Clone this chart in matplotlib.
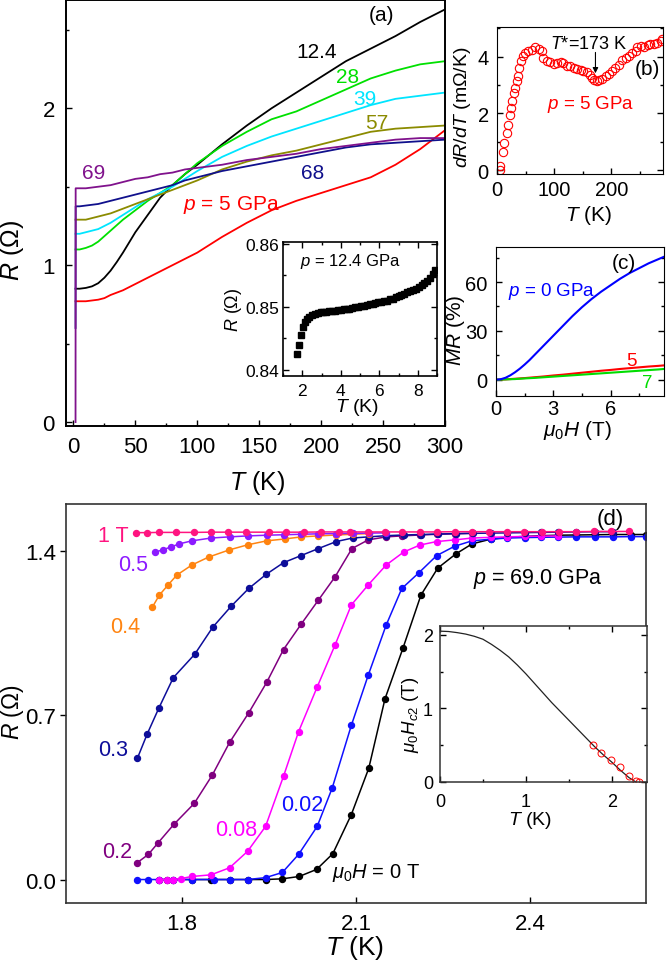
# R(T) at high pressure: four panels + two insets
import matplotlib
matplotlib.use('Agg')
import matplotlib.pyplot as plt
from matplotlib.ticker import MultipleLocator, FormatStrFormatter

plt.rcParams['font.family'] = ['Liberation Sans', 'DejaVu Sans']
plt.rcParams['mathtext.fontset'] = 'custom'
plt.rcParams['mathtext.rm'] = 'Liberation Sans'
plt.rcParams['mathtext.it'] = 'Liberation Sans:italic'
plt.rcParams['xtick.direction'] = 'in'
plt.rcParams['ytick.direction'] = 'in'

# ---- panel (a): R(T) at several pressures (GPa)
t_a = [1.7, 1.8, 5, 10, 15, 20, 25, 30, 35, 40, 45, 50, 60, 70, 80, 90, 100,
       120, 140, 160, 180, 200, 220, 240, 260, 280, 300]
r_5 = [0.77, 0.77, 0.77, 0.77, 0.775, 0.78, 0.79, 0.81, 0.825, 0.84, 0.86,
       0.88, 0.92, 0.96, 1.00, 1.04, 1.08, 1.18, 1.27, 1.35, 1.41, 1.46, 1.51,
       1.56, 1.64, 1.74, 1.86]
r_12 = [0.85, 0.85, 0.85, 0.855, 0.865, 0.885, 0.92, 0.965, 1.02, 1.08, 1.145,
        1.21, 1.32, 1.43, 1.51, 1.58, 1.64, 1.77, 1.89, 2.00, 2.10, 2.20, 2.30,
        2.38, 2.46, 2.55, 2.63]
r_28 = [1.10, 1.10, 1.10, 1.11, 1.125, 1.15, 1.185, 1.22, 1.255, 1.29, 1.32,
        1.35, 1.41, 1.46, 1.51, 1.58, 1.65, 1.76, 1.85, 1.93, 1.98, 2.05, 2.12,
        2.19, 2.24, 2.28, 2.30]
r_39 = [1.20, 1.20, 1.20, 1.21, 1.22, 1.23, 1.25, 1.27, 1.295, 1.32, 1.345,
        1.37, 1.42, 1.46, 1.50, 1.55, 1.60, 1.69, 1.76, 1.82, 1.87, 1.92, 1.97,
        2.02, 2.06, 2.08, 2.10]
r_57 = [1.29, 1.29, 1.29, 1.29, 1.30, 1.31, 1.32, 1.33, 1.345, 1.36, 1.375,
        1.39, 1.42, 1.45, 1.48, 1.51, 1.54, 1.61, 1.66, 1.70, 1.73, 1.77, 1.81,
        1.85, 1.87, 1.88, 1.89]
r_68 = [0.60, 1.375, 1.375, 1.38, 1.385, 1.39, 1.40, 1.41, 1.42, 1.43, 1.44,
        1.45, 1.47, 1.49, 1.51, 1.54, 1.56, 1.60, 1.63, 1.66, 1.69, 1.72, 1.75,
        1.77, 1.78, 1.79, 1.80]
r_69 = [0.0, 1.49, 1.49, 1.49, 1.495, 1.50, 1.505, 1.51, 1.52, 1.53, 1.54,
        1.55, 1.56, 1.58, 1.59, 1.61, 1.62, 1.64, 1.67, 1.69, 1.71, 1.74, 1.76,
        1.78, 1.80, 1.81, 1.81]

# inset of (a): 12.4 GPa low T
t_ain = [1.75, 1.85, 1.95, 2.05, 2.15, 2.25, 2.35, 2.5, 2.65, 2.8, 2.95, 3.1,
         3.25, 3.4, 3.55, 3.7, 3.85, 4.0, 4.15, 4.3, 4.45, 4.6, 4.75, 4.9,
         5.05, 5.2, 5.35, 5.5, 5.65, 5.8, 5.95, 6.1, 6.25, 6.4, 6.55, 6.7,
         6.85, 7.0, 7.15, 7.3, 7.45, 7.6, 7.75, 7.9, 8.05, 8.2, 8.35, 8.5,
         8.65, 8.8, 8.9]
r_ain = [0.8425, 0.8440, 0.8455, 0.8468, 0.8476, 0.8481, 0.8484, 0.8487,
         0.8489, 0.8490, 0.8491, 0.8492, 0.8492, 0.8493, 0.8494, 0.8494,
         0.8495, 0.8495, 0.8496, 0.8497, 0.8497, 0.8498, 0.8499, 0.8500,
         0.8501, 0.8502, 0.8503, 0.8504, 0.8505, 0.8506, 0.8507, 0.8508,
         0.8509, 0.8510, 0.8512, 0.8513, 0.8515, 0.8517, 0.8519, 0.8521,
         0.8523, 0.8525, 0.8527, 0.8529, 0.8532, 0.8535, 0.8538, 0.8541,
         0.8545, 0.8552, 0.8558]

# ---- panel (b): dR/dT at 5 GPa
t_b = [5, 6, 10, 12, 17, 20, 22, 24, 27, 30, 32, 35, 36, 39, 42, 45, 49, 55,
       61, 67, 73, 78, 81, 87, 93, 99, 105, 111, 116, 122, 128, 134, 140, 146,
       151, 157, 163, 166, 170, 174, 178, 184, 190, 195, 201, 207, 213, 219,
       225, 230, 236, 242, 245, 251, 257, 263, 268, 274, 280, 286, 289]
dr_b = [0.01, 0.15, 0.62, 0.97, 1.32, 1.58, 1.96, 2.20, 2.43, 2.72, 2.90, 3.13,
        3.31, 3.60, 3.84, 4.01, 4.13, 4.19, 4.25, 4.34, 4.27, 4.19, 3.95, 3.84,
        3.80, 3.75, 3.78, 3.81, 3.78, 3.68, 3.66, 3.60, 3.57, 3.54, 3.51, 3.45,
        3.37, 3.25, 3.19, 3.16, 3.17, 3.22, 3.31, 3.40, 3.49, 3.60, 3.72, 3.87,
        3.95, 4.04, 4.13, 4.19, 4.36, 4.39, 4.36, 4.42, 4.46, 4.46, 4.50, 4.57,
        4.62]

# ---- panel (c): MR vs field
h_c = [0, 0.25, 0.5, 0.75, 1, 1.25, 1.5, 1.75, 2, 2.5, 3, 3.5, 4, 4.5, 5, 5.5,
       6, 6.5, 7, 7.5, 8, 8.5, 8.8]
mr_0 = [0, 0.3, 1.2, 2.7, 4.6, 6.8, 9.3, 12.0, 15, 21, 27, 33, 39, 44.5, 49.5,
        54, 58, 62, 65.5, 68.5, 71.5, 74, 75.5]
mr_5 = [0, 0.1, 0.2, 0.4, 0.6, 0.8, 1.0, 1.25, 1.5, 2.0, 2.6, 3.1, 3.7, 4.3,
        4.9, 5.5, 6.0, 6.6, 7.1, 7.6, 8.1, 8.5, 8.8]
mr_7 = [0, 0.1, 0.2, 0.3, 0.4, 0.6, 0.8, 0.95, 1.1, 1.5, 1.9, 2.3, 2.7, 3.1,
        3.5, 3.9, 4.3, 4.7, 5.1, 5.5, 5.9, 6.3, 6.6]

# ---- panel (d): R(T) at 69.0 GPa under field (T)
t_1 = [1.72, 1.74, 1.76, 1.79, 1.82, 1.85, 1.88, 1.91, 1.95, 1.98, 2.01, 2.04,
       2.07, 2.09, 2.12, 2.15, 2.18, 2.21, 2.24, 2.27, 2.30, 2.33, 2.36, 2.39,
       2.42, 2.45, 2.48, 2.51, 2.54, 2.57]
r_1 = [1.478, 1.478, 1.479, 1.479, 1.479, 1.480, 1.480, 1.480, 1.480, 1.480,
       1.480, 1.481, 1.481, 1.481, 1.481, 1.481, 1.481, 1.481, 1.481, 1.482,
       1.482, 1.482, 1.482, 1.482, 1.482, 1.482, 1.482, 1.483, 1.483, 1.483]
t_05 = [1.754, 1.767, 1.781, 1.795, 1.817, 1.850, 1.882, 1.913, 1.946, 1.975,
        2.006, 2.035, 2.066, 2.094, 2.122, 2.152]
r_05 = [1.395, 1.405, 1.417, 1.430, 1.443, 1.455, 1.460, 1.464, 1.467, 1.469,
        1.471, 1.473, 1.474, 1.475, 1.476, 1.477]
t_04 = [1.749, 1.761, 1.776, 1.791, 1.817, 1.846, 1.881, 1.913, 1.946, 1.977,
        2.006, 2.035, 2.066, 2.094, 2.122]
r_04 = [1.161, 1.212, 1.255, 1.297, 1.340, 1.374, 1.404, 1.426, 1.443, 1.451,
        1.460, 1.464, 1.468, 1.471, 1.474]
t_03 = [1.723, 1.740, 1.760, 1.785, 1.822, 1.853, 1.885, 1.915, 1.945, 1.975,
        2.005, 2.035, 2.066, 2.094, 2.122, 2.152, 2.182, 2.212, 2.241, 2.272,
        2.301, 2.332, 2.361, 2.392, 2.419, 2.448, 2.479, 2.512, 2.543]
r_03 = [0.516, 0.62, 0.73, 0.86, 0.96, 1.075, 1.165, 1.24, 1.30, 1.35, 1.38,
        1.41, 1.44, 1.455, 1.46, 1.465, 1.468, 1.470, 1.472, 1.474, 1.475,
        1.476, 1.477, 1.478, 1.479, 1.480, 1.481, 1.482, 1.482]
t_02 = [1.723, 1.742, 1.759, 1.786, 1.821, 1.852, 1.882, 1.915, 1.946, 1.975,
        2.006, 2.035, 2.064, 2.093, 2.121, 2.152, 2.179, 2.21, 2.24, 2.27, 2.30]
r_02 = [0.072, 0.107, 0.157, 0.235, 0.324, 0.444, 0.584, 0.71, 0.84, 0.98,
        1.09, 1.19, 1.29, 1.41, 1.447, 1.46, 1.464, 1.468, 1.471, 1.473, 1.475]
t_008 = [1.761, 1.774, 1.785, 1.798, 1.817, 1.850, 1.882, 1.913, 1.944, 1.975,
         2.001, 2.033, 2.064, 2.092, 2.121, 2.152, 2.182, 2.21, 2.239, 2.27,
         2.30, 2.332, 2.361, 2.392, 2.419, 2.448]
r_008 = [0.0, 0.0, 0.0, 0.004, 0.013, 0.02, 0.05, 0.12, 0.226, 0.44, 0.63, 0.82,
         1.0, 1.17, 1.255, 1.34, 1.395, 1.425, 1.44, 1.447, 1.455, 1.458, 1.46,
         1.462, 1.463, 1.464]
t_002 = [1.723, 1.742, 1.761, 1.785, 1.817, 1.855, 1.882, 1.913, 1.944, 1.973,
         2.001, 2.033, 2.059, 2.092, 2.121, 2.152, 2.179, 2.208, 2.239, 2.27,
         2.30, 2.332, 2.361, 2.392, 2.419, 2.448, 2.479, 2.512, 2.543, 2.574,
         2.60]
r_002 = [0, 0, 0, 0, 0, 0, 0, 0, 0.008, 0.03, 0.107, 0.226, 0.39, 0.657, 0.87,
         1.084, 1.24, 1.306, 1.38, 1.42, 1.443, 1.45, 1.455, 1.457, 1.458,
         1.459, 1.46, 1.46, 1.46, 1.461, 1.461]
t_0 = [1.761, 1.774, 1.785, 1.817, 1.850, 1.882, 1.913, 1.944, 1.973, 2.002,
       2.032, 2.060, 2.092, 2.122, 2.150, 2.181, 2.212, 2.241, 2.272, 2.30,
       2.332, 2.361, 2.392, 2.419, 2.448, 2.479, 2.512, 2.543, 2.574, 2.60]
r_0 = [0, 0, 0, 0, 0, 0, 0, 0, 0.003, 0.013, 0.043, 0.11, 0.277, 0.474, 0.77,
       0.986, 1.212, 1.327, 1.387, 1.43, 1.45, 1.458, 1.462, 1.465, 1.467,
       1.468, 1.469, 1.47, 1.47, 1.47]

# inset of (d): upper critical field
tc_pts = [1.78, 1.87, 1.99, 2.09, 2.20, 2.28, 2.32]
hc2_pts = [0.5, 0.4, 0.3, 0.2, 0.08, 0.02, 0.0]
t_fit = [0, 0.1, 0.2, 0.3, 0.4, 0.5, 0.6, 0.7, 0.8, 0.9, 1.0, 1.1, 1.2, 1.3,
         1.4, 1.5, 1.6, 1.7, 1.8, 1.9, 2.0, 2.1, 2.2, 2.28]
h_fit = [2.05, 2.045, 2.03, 2.01, 1.98, 1.94, 1.87, 1.79, 1.70, 1.59, 1.47,
         1.34, 1.21, 1.08, 0.96, 0.84, 0.72, 0.60, 0.48, 0.37, 0.27, 0.16,
         0.06, 0.0]

W, H = 666, 962


def rect(l, t, r, b):
    # pixel box -> figure fraction
    return [l / W, 1 - b / H, (r - l) / W, (b - t) / H]


def ticks(ax, size, pad_x, pad_y, right=False, top=False):
    ax.tick_params(which='both', labelsize=size, right=right, top=top)
    ax.tick_params(axis='x', which='major', pad=pad_x, length=4.5, width=1)
    ax.tick_params(axis='y', which='major', pad=pad_y, length=4.5, width=1)
    ax.tick_params(which='minor', length=2.5, width=1)


fig = plt.figure(figsize=(6.66, 9.62), dpi=100)

# ================= (a)
ax = fig.add_axes(rect(66, 1, 445, 427))
curves = [(r_5, 'red'), (r_12, 'black'), (r_28, '#00e000'), (r_39, '#00e5ff'),
          (r_57, '#8b8b00'), (r_68, '#10108c'), (r_69, '#80128c')]
for r, c in curves:
    ax.plot(t_a, r, color=c, lw=1.3)
ax.set_xlim(-6, 300)
ax.set_ylim(-0.025, 2.69)
ax.xaxis.set_major_locator(MultipleLocator(50))
ax.xaxis.set_minor_locator(MultipleLocator(25))
ax.yaxis.set_major_locator(MultipleLocator(1))
ax.yaxis.set_minor_locator(MultipleLocator(0.5))
ticks(ax, 16, 7, 8)
for s in ax.spines.values():
    s.set_linewidth(1.4)
ax.set_xlabel(r'$T$ (K)', fontsize=18)
ax.set_ylabel(r'$R$ ($\Omega$)', fontsize=18)
ax.xaxis.set_label_coords(0.504, -0.099)
ax.yaxis.set_label_coords(-0.105, 0.415)
lbl = dict(fontsize=15, ha='center', va='center')
ax.text(196, 2.36, '12.4', color='black', **lbl)
ax.text(221, 2.20, '28', color='#00e000', **lbl)
ax.text(235, 2.06, '39', color='#00e5ff', **lbl)
ax.text(245, 1.91, '57', color='#8b8b00', **lbl)
ax.text(193, 1.59, '68', color='#10108c', **lbl)
ax.text(16, 1.59, '69', color='#80128c', **lbl)
ax.text(128, 1.39, r'$p$ = 5 GPa', color='red', **lbl)
ax.text(249, 2.60, '(a)', color='black', **lbl)

# inset (a)
ai = fig.add_axes(rect(283, 243, 437, 377))
ai.plot(t_ain, r_ain, 's', color='black', ms=3.8)
ai.set_xlim(1, 9)
ai.set_ylim(0.839, 0.8603)
ai.xaxis.set_major_locator(MultipleLocator(2))
ai.xaxis.set_minor_locator(MultipleLocator(1))
ai.yaxis.set_major_locator(MultipleLocator(0.01))
ai.yaxis.set_minor_locator(MultipleLocator(0.005))
ai.yaxis.set_major_formatter(FormatStrFormatter('%.2f'))
ticks(ai, 12.5, 5, 3, right=True, top=True)
for s in ai.spines.values():
    s.set_linewidth(1.2)
ai.set_xlabel(r'$T$ (K)', fontsize=14)
ai.set_ylabel(r'$R$ ($\Omega$)', fontsize=13)
ai.xaxis.set_label_coords(0.48, -0.15)
ai.yaxis.set_label_coords(-0.25, 0.5)
ai.text(4.5, 0.8573, r'$p$ = 12.4 GPa', fontsize=12, ha='center', va='center')

# ================= (b)
bx = fig.add_axes(rect(497, 28, 663, 175))
bx.plot(t_b, dr_b, 'o', mfc='none', mec='red', ms=6, mew=0.8)
bx.set_xlim(0, 290)
bx.set_ylim(-0.14, 5.05)
bx.xaxis.set_major_locator(MultipleLocator(100))
bx.xaxis.set_minor_locator(MultipleLocator(50))
bx.yaxis.set_major_locator(MultipleLocator(2))
bx.yaxis.set_minor_locator(MultipleLocator(1))
ticks(bx, 14.5, 4, 6, right=True)
bx.set_xlabel(r'$T$ (K)', fontsize=15)
bx.set_ylabel(r'$dR/dT$ (m$\Omega$/K)', fontsize=14)
bx.xaxis.set_label_coords(0.554, -0.2)
bx.yaxis.set_label_coords(-0.145, 0.463)
bx.text(161, 4.46, r'$T$*=173 K', fontsize=13, ha='center', va='center')
bx.annotate('', xy=(172, 3.32), xytext=(172, 4.25),
            arrowprops=dict(arrowstyle='-|>', lw=0.8, color='black',
                            mutation_scale=8))
bx.text(263, 3.58, '(b)', fontsize=15, ha='center', va='center')
bx.text(163, 2.34, r'$p$ = 5 GPa', fontsize=13.5, color='red',
        ha='center', va='center')

# ================= (c)
cx = fig.add_axes(rect(496, 248, 664, 397))
cx.plot(h_c, mr_5, color='red', lw=1.5)
cx.plot(h_c, mr_7, color='#00dd00', lw=1.5)
cx.plot(h_c, mr_0, color='blue', lw=1.5)
cx.set_xlim(0, 8.8)
cx.set_ylim(-10, 81.5)
cx.xaxis.set_major_locator(MultipleLocator(3))
cx.xaxis.set_minor_locator(MultipleLocator(1.5))
cx.yaxis.set_major_locator(MultipleLocator(30))
cx.yaxis.set_minor_locator(MultipleLocator(15))
ticks(cx, 14.5, 2.5, 6, right=True)
cx.set_xlabel(r'$\mu_0H$ (T)', fontsize=15)
cx.set_ylabel(r'$MR$ (%)', fontsize=15)
cx.xaxis.set_label_coords(0.482, -0.15)
cx.yaxis.set_label_coords(-0.17, 0.45)
cx.text(2.9, 54.5, r'$p$ = 0 GPa', fontsize=13.5, color='blue',
        ha='center', va='center')
cx.text(7.1, 11.6, '5', fontsize=13.5, color='red', ha='center', va='center')
cx.text(7.9, -1.5, '7', fontsize=13.5, color='#00dd00', ha='center',
        va='center')
cx.text(6.7, 72, '(c)', fontsize=15, ha='center', va='center')

# ================= (d)
dx = fig.add_axes(rect(66, 505, 646, 904))
d_curves = [(t_0, r_0, 'black'), (t_002, r_002, '#1010ff'),
            (t_008, r_008, '#ff00ff'), (t_02, r_02, '#800080'),
            (t_03, r_03, '#0d0d99'), (t_04, r_04, '#ff8410'),
            (t_05, r_05, '#8c1aff'), (t_1, r_1, '#ff1480')]
for t, r, c in d_curves:
    dx.plot(t, r, '-o', color=c, ms=4.3, lw=1.1)
dx.set_xlim(1.6, 2.6)
dx.set_ylim(-0.1, 1.6)
dx.xaxis.set_major_locator(MultipleLocator(0.3))
dx.yaxis.set_major_locator(MultipleLocator(0.7))
dx.yaxis.set_major_formatter(FormatStrFormatter('%.1f'))
ticks(dx, 16, 7, 3)
dx.tick_params(axis='y', direction='out', length=4)
for s in dx.spines.values():
    s.set_linewidth(1.2)
    s.set_color('#333333')
dx.set_xlabel(r'$T$ (K)', fontsize=19)
dx.set_ylabel(r'$R$ ($\Omega$)', fontsize=16.5)
dx.xaxis.set_label_coords(0.497, -0.076)
dx.yaxis.set_label_coords(-0.0695, 0.481)
lb = dict(fontsize=15.5, ha='center', va='center')
dx.text(1.682, 1.464, '1 T', color='#ff1480', **lb)
dx.text(1.716, 1.344, '0.5', color='#8c1aff', **lb)
dx.text(1.702, 1.08, '0.4', color='#ff8410', **lb)
dx.text(1.682, 0.555, '0.3', color='#0d0d99', **lb)
dx.text(1.689, 0.12, '0.2', color='#800080', **lb)
dx.text(1.894, 0.213, '0.08', color='#ff00ff', **lb)
dx.text(2.008, 0.32, '0.02', color='#1010ff', **lb)
dx.text(2.059, 0.034, r'$\mu_0H$ = 0 T', fontsize=14.5, ha='left',
        va='center')
dx.text(2.414, 1.285, r'$p$ = 69.0 GPa', fontsize=15.5, ha='center',
        va='center')
dx.text(2.539, 1.54, '(d)', fontsize=16, ha='center', va='center')

# inset (d)
di = fig.add_axes(rect(440, 627, 647, 783))
di.plot(t_fit, h_fit, color='#222222', lw=0.9)
di.plot(tc_pts, hc2_pts, 'o', mfc='none', mec='red', ms=5, mew=0.7)
di.set_xlim(0, 2.41)
di.set_ylim(0, 2.12)
di.xaxis.set_major_locator(MultipleLocator(1))
di.xaxis.set_minor_locator(MultipleLocator(0.5))
di.yaxis.set_major_locator(MultipleLocator(1))
di.yaxis.set_minor_locator(MultipleLocator(0.5))
ticks(di, 13, 8, 5, right=True, top=True)
for s in di.spines.values():
    s.set_linewidth(1.1)
    s.set_color('#333333')
di.set_xlabel(r'$T$ (K)', fontsize=14)
di.set_ylabel(r'$\mu_0H_{c2}$ (T)', fontsize=13.5)
di.xaxis.set_label_coords(0.435, -0.17)
di.yaxis.set_label_coords(-0.09, 0.436)

fig.savefig('out.png', dpi=100)
